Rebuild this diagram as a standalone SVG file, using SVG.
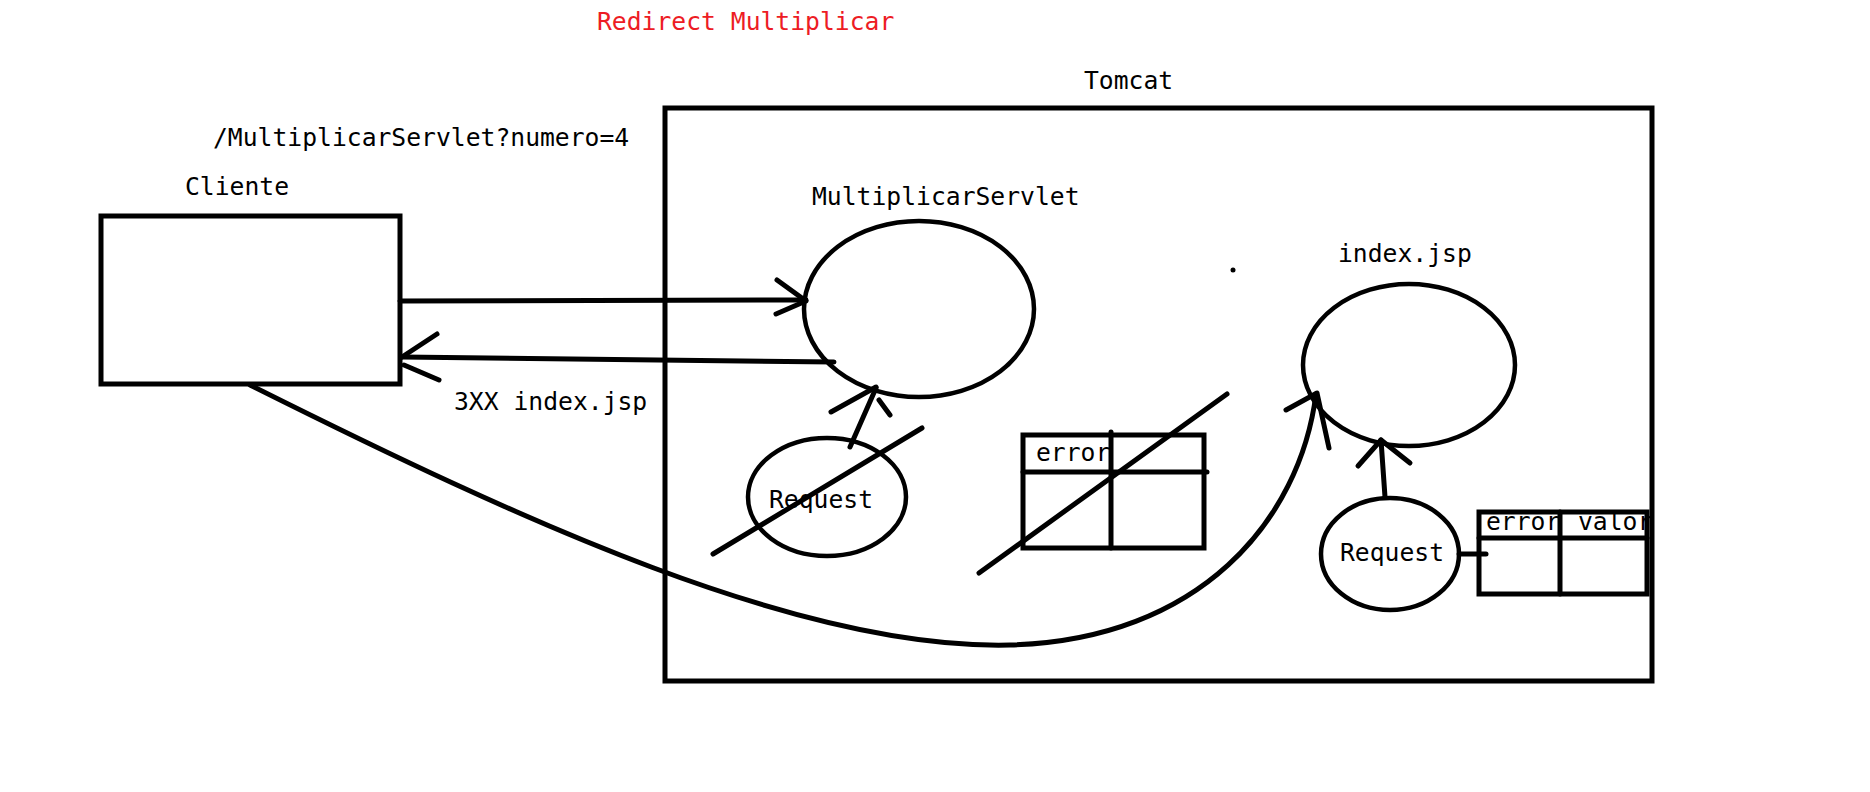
<svg xmlns="http://www.w3.org/2000/svg" width="1870" height="792" viewBox="0 0 1870 792">
  <style>
    .t { font-family: "DejaVu Sans Mono", "Liberation Mono", monospace; font-size: 24.7px; fill: #000; }
    .red { fill: #ed1c24; }
    .s { fill: none; stroke: #000; stroke-width: 5; stroke-linecap: round; stroke-linejoin: round; }
    .e { fill: none; stroke: #000; stroke-width: 4.5; }
    .r { fill: none; stroke: #000; stroke-width: 5; stroke-linecap: square; }
  </style>
  <rect width="1870" height="792" fill="#fff"/>

  <text id="title" class="t red" x="597" y="30">Redirect Multiplicar</text>

  <g id="tomcat">
    <rect class="r" x="665" y="108" width="987" height="573"/>
    <text class="t" x="1084" y="89">Tomcat</text>
  </g>

  <g id="cliente">
    <rect class="r" x="101" y="216" width="299" height="168"/>
    <text class="t" x="185" y="195">Cliente</text>
  </g>

  <g id="multiplicarServlet">
    <ellipse class="e" cx="919" cy="309" rx="115" ry="88"/>
    <text class="t" x="812" y="205">MultiplicarServlet</text>
  </g>

  <g id="indexJsp">
    <ellipse class="e" cx="1409" cy="365" rx="106" ry="81"/>
    <text class="t" x="1338" y="262">index.jsp</text>
  </g>

  <g id="request1">
    <ellipse class="e" cx="827" cy="497" rx="79" ry="59"/>
    <text class="t" x="769" y="508">Request</text>
    <line class="s" x1="713" y1="554" x2="922" y2="428"/>
  </g>

  <g id="table1">
    <rect class="r" x="1023" y="435" width="181" height="113"/>
    <line class="s" x1="1023" y1="472" x2="1207" y2="472"/>
    <line class="s" x1="1111" y1="432" x2="1111" y2="548"/>
    <text class="t" x="1036" y="461">error</text>
    <line class="s" x1="979" y1="573" x2="1227" y2="394"/>
  </g>

  <g id="request2">
    <ellipse class="e" cx="1390" cy="554" rx="69" ry="56"/>
    <text class="t" x="1340" y="561">Request</text>
  </g>

  <g id="table2">
    <rect class="r" x="1479" y="512" width="168" height="82"/>
    <line class="s" x1="1479" y1="538" x2="1647" y2="538"/>
    <line class="s" x1="1560" y1="512" x2="1560" y2="594"/>
    <text class="t" x="1486" y="530">error</text>
    <text class="t" x="1578" y="530">valor</text>
  </g>

  <g id="dot">
    <circle cx="1233" cy="270" r="2.5" fill="#000"/>
  </g>

  <g id="connectors">
    <!-- request to servlet -->
    <line class="s" x1="400" y1="301" x2="806" y2="300"/>
    <polyline class="s" points="777,280 806,301 776,314"/>
    <text class="t" x="213" y="146">/MultiplicarServlet?numero=4</text>

    <!-- 3XX response -->
    <line class="s" x1="834" y1="362" x2="402" y2="357"/>
    <polyline class="s" points="437,334 402,357"/>
    <line class="s" x1="404" y1="365" x2="439" y2="380"/>
    <text class="t" x="454" y="410">3XX index.jsp</text>

    <!-- redirect curve to index.jsp -->
    <path class="s" stroke-width="4.5" d="M250,385 C520,520 800,650 1010,645 C1200,640 1300,520 1316,394"/>
    <polyline class="s" points="1286,410 1317,393 1329,448"/>

    <!-- request1 to servlet -->
    <line class="s" x1="850" y1="447" x2="876" y2="388"/>
    <line class="s" x1="831" y1="412" x2="876" y2="387"/>
    <line class="s" x1="879" y1="400" x2="890" y2="415"/>

    <!-- request2 to index.jsp -->
    <line class="s" x1="1385" y1="497" x2="1381" y2="440"/>
    <polyline class="s" points="1358,466 1381,440 1410,463"/>

    <!-- request2 to table2 -->
    <line class="s" x1="1459" y1="554" x2="1486" y2="554"/>
  </g>
</svg>
